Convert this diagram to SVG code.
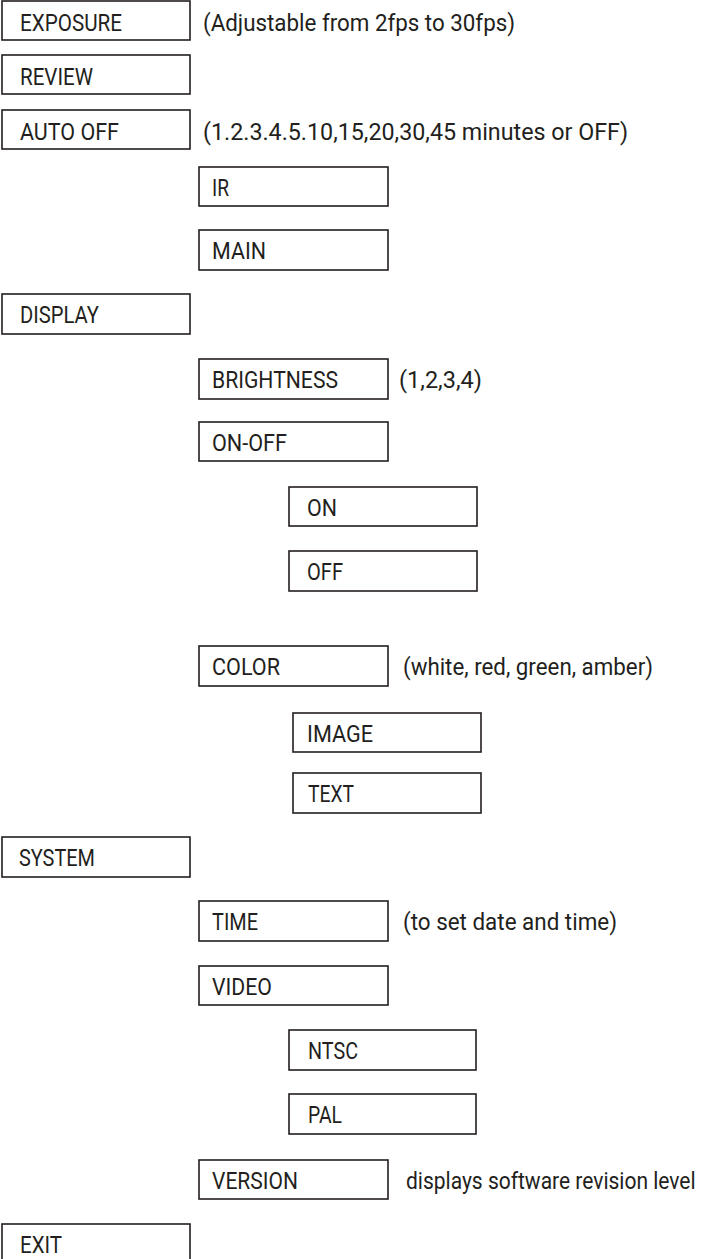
<svg xmlns="http://www.w3.org/2000/svg" width="704" height="1259" viewBox="0 0 704 1259">
<style>
.b{fill:#fff;stroke:#231f20;stroke-width:1.6}
.t{font-family:Roboto,"Open Sans","Liberation Sans",sans-serif;font-size:24px;fill:#231f20}
</style>
<rect width="704" height="1259" fill="#fff"/>
<g id="connectors"></g>
<g id="n-exposure"><rect class="b" x="2" y="1" width="188" height="39"/><text class="t" x="20" y="31" textLength="102" lengthAdjust="spacingAndGlyphs">EXPOSURE</text></g>
<g id="a-exposure"><text class="t" x="203" y="31" textLength="312" lengthAdjust="spacingAndGlyphs">(Adjustable from 2fps to 30fps)</text></g>
<g id="n-review"><rect class="b" x="2" y="55" width="188" height="39"/><text class="t" x="20" y="85" textLength="73" lengthAdjust="spacingAndGlyphs">REVIEW</text></g>
<g id="n-autooff"><rect class="b" x="2" y="110" width="188" height="39"/><text class="t" x="20" y="140" textLength="99" lengthAdjust="spacingAndGlyphs">AUTO OFF</text></g>
<g id="a-autooff"><text class="t" x="203" y="140" textLength="425" lengthAdjust="spacingAndGlyphs">(1.2.3.4.5.10,15,20,30,45 minutes or OFF)</text></g>
<g id="n-ir"><rect class="b" x="199" y="167" width="189" height="39"/><text class="t" x="212" y="196" textLength="17" lengthAdjust="spacingAndGlyphs">IR</text></g>
<g id="n-main"><rect class="b" x="199" y="230" width="189" height="40"/><text class="t" x="212" y="259" textLength="54" lengthAdjust="spacingAndGlyphs">MAIN</text></g>
<g id="n-display"><rect class="b" x="2" y="294" width="188" height="40"/><text class="t" x="20" y="323" textLength="79" lengthAdjust="spacingAndGlyphs">DISPLAY</text></g>
<g id="n-brightness"><rect class="b" x="199" y="359" width="189" height="40"/><text class="t" x="212" y="388" textLength="126" lengthAdjust="spacingAndGlyphs">BRIGHTNESS</text></g>
<g id="a-brightness"><text class="t" x="399" y="388" textLength="83" lengthAdjust="spacingAndGlyphs">(1,2,3,4)</text></g>
<g id="n-onoff"><rect class="b" x="199" y="422" width="189" height="39"/><text class="t" x="212" y="451" textLength="75" lengthAdjust="spacingAndGlyphs">ON-OFF</text></g>
<g id="n-on"><rect class="b" x="289" y="487" width="188" height="39"/><text class="t" x="307" y="516" textLength="30" lengthAdjust="spacingAndGlyphs">ON</text></g>
<g id="n-off"><rect class="b" x="289" y="551" width="188" height="40"/><text class="t" x="307" y="580" textLength="36" lengthAdjust="spacingAndGlyphs">OFF</text></g>
<g id="n-color"><rect class="b" x="199" y="646" width="189" height="40"/><text class="t" x="212" y="675" textLength="68" lengthAdjust="spacingAndGlyphs">COLOR</text></g>
<g id="a-color"><text class="t" x="403" y="675" textLength="250" lengthAdjust="spacingAndGlyphs">(white, red, green, amber)</text></g>
<g id="n-image"><rect class="b" x="293" y="713" width="188" height="39"/><text class="t" x="307" y="742" textLength="66" lengthAdjust="spacingAndGlyphs">IMAGE</text></g>
<g id="n-text"><rect class="b" x="293" y="773" width="188" height="40"/><text class="t" x="308" y="802" textLength="46" lengthAdjust="spacingAndGlyphs">TEXT</text></g>
<g id="n-system"><rect class="b" x="2" y="837" width="188" height="40"/><text class="t" x="19" y="866" textLength="76" lengthAdjust="spacingAndGlyphs">SYSTEM</text></g>
<g id="n-time"><rect class="b" x="199" y="901" width="189" height="40"/><text class="t" x="212" y="930" textLength="46" lengthAdjust="spacingAndGlyphs">TIME</text></g>
<g id="a-time"><text class="t" x="403" y="930" textLength="214" lengthAdjust="spacingAndGlyphs">(to set date and time)</text></g>
<g id="n-video"><rect class="b" x="199" y="966" width="189" height="39"/><text class="t" x="212" y="995" textLength="60" lengthAdjust="spacingAndGlyphs">VIDEO</text></g>
<g id="n-ntsc"><rect class="b" x="289" y="1030" width="187" height="40"/><text class="t" x="308" y="1059" textLength="50" lengthAdjust="spacingAndGlyphs">NTSC</text></g>
<g id="n-pal"><rect class="b" x="289" y="1094" width="187" height="40"/><text class="t" x="308" y="1123" textLength="34" lengthAdjust="spacingAndGlyphs">PAL</text></g>
<g id="n-version"><rect class="b" x="199" y="1160" width="189" height="39"/><text class="t" x="212" y="1189" textLength="86" lengthAdjust="spacingAndGlyphs">VERSION</text></g>
<g id="a-version"><text class="t" transform="translate(406 1189) scale(0.8 1)" x="0" y="0" textLength="362" lengthAdjust="spacingAndGlyphs">displays software revision level</text></g>
<g id="n-exit"><rect class="b" x="2" y="1224" width="188" height="40"/><text class="t" x="20" y="1253" textLength="42" lengthAdjust="spacingAndGlyphs">EXIT</text></g>
</svg>
